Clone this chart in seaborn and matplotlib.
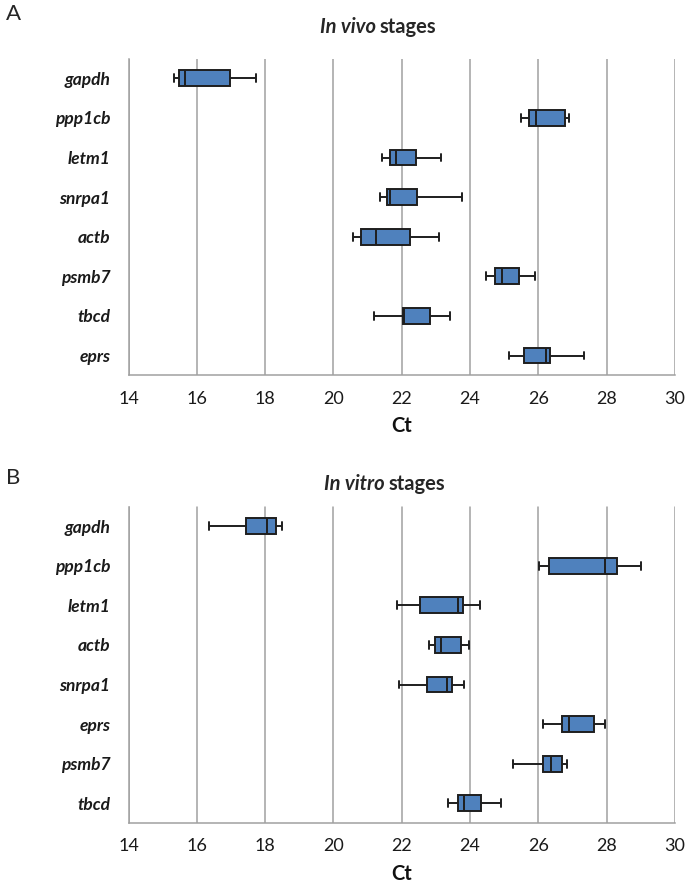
import numpy as np
import pandas as pd
import matplotlib
matplotlib.use('Agg')
import matplotlib.pyplot as plt
import seaborn as sns

# panel A - in vivo stages (min, q1, median, q3, max of Ct)
genes_a = ['gapdh', 'ppp1cb', 'letm1', 'snrpa1', 'actb', 'psmb7', 'tbcd', 'eprs']
min_a = [15.34, 25.50, 21.42, 21.35, 20.57, 24.47, 21.18, 25.13]
q1_a = [15.47, 25.74, 21.66, 21.56, 20.82, 24.74, 22.03, 25.57]
med_a = [15.64, 25.93, 21.83, 21.67, 21.26, 24.93, 22.08, 26.23]
q3_a = [16.96, 26.79, 22.41, 22.44, 22.23, 25.42, 22.83, 26.35]
max_a = [17.74, 26.90, 23.14, 23.77, 23.09, 25.90, 23.40, 27.33]

# panel B - in vitro stages
genes_b = ['gapdh', 'ppp1cb', 'letm1', 'actb', 'snrpa1', 'eprs', 'psmb7', 'tbcd']
min_b = [16.37, 26.03, 21.87, 22.79, 21.91, 26.13, 25.27, 23.34]
q1_b = [17.44, 26.32, 22.54, 22.96, 22.73, 26.70, 26.14, 23.65]
med_b = [18.05, 27.96, 23.64, 23.14, 23.32, 26.89, 26.38, 23.81]
q3_b = [18.31, 28.31, 23.79, 23.74, 23.46, 27.62, 26.70, 24.33]
max_b = [18.48, 29.01, 24.30, 23.98, 23.81, 27.94, 26.85, 24.92]

xticks = [14, 16, 18, 20, 22, 24, 26, 28, 30]


def long_table(genes, *cols):
    rows = []
    for i, g in enumerate(genes):
        for c in cols:
            rows.append({'gene': g, 'Ct': c[i]})
    return pd.DataFrame(rows)


sns.set_style('white')
plt.rcParams['font.family'] = ['Lato', 'DejaVu Sans']

fig = plt.figure(figsize=(6.85, 8.85), dpi=100)
W, H = 685.0, 885.0

grey = '#a0a0a0'
panels = [
    ('A', 'In vivo', genes_a, (min_a, q1_a, med_a, q3_a, max_a), 58.5, 375.3, 27, 380, 14),
    ('B', 'In vitro', genes_b, (min_b, q1_b, med_b, q3_b, max_b), 506.5, 823.0, 484, 389, 478),
]

for letter, stage, genes, cols, top, bot, ty, tsplit, ly in panels:
    ax = fig.add_axes([128.5 / W, 1 - bot / H, (675 - 128.5) / W, (bot - top) / H])
    df = long_table(genes, *cols)
    sns.boxplot(data=df, x='Ct', y='gene', order=genes, whis=(0, 100), width=0.4,
                color='#4f81bd', saturation=1, linewidth=1.4, linecolor='#1e1e1e',
                ax=ax)
    ax.set_xlim(14, 30)
    ax.set_xticks(xticks)
    ax.xaxis.grid(True, color=grey, linewidth=1.1)
    ax.set_axisbelow(True)
    for s in ['top', 'right']:
        ax.spines[s].set_visible(False)
    for s in ['left', 'bottom']:
        ax.spines[s].set_color(grey)
        ax.spines[s].set_linewidth(1.1)
    ax.set_yticks(np.arange(-0.5, len(genes), 1), minor=True)
    ax.tick_params(axis='y', which='major', length=0, pad=13)
    ax.tick_params(axis='y', which='minor', length=5, width=1.1, color=grey, direction='out')
    ax.tick_params(axis='x', length=4, width=1.1, color=grey, direction='out',
                   labelsize=13, pad=7, labelcolor='#1a1a1a')
    for lab in ax.get_yticklabels():
        lab.set_fontstyle('italic')
        lab.set_fontweight('bold')
        lab.set_fontsize(12.5)
        lab.set_color('#1a1a1a')
    ax.set_ylabel('')
    ax.set_xlabel('Ct', fontsize=14.5, fontweight='bold', labelpad=7, color='#111111')

    fig.text(6 / W, 1 - ly / H, letter, fontsize=16, ha='left', va='center')
    fig.text(tsplit / W, 1 - ty / H, stage + ' ', fontsize=14.5, fontweight='bold',
             fontstyle='italic', ha='right', va='center')
    fig.text(tsplit / W, 1 - ty / H, 'stages', fontsize=14.5, fontweight='bold',
             ha='left', va='center')

fig.savefig('out.png', dpi=100)
